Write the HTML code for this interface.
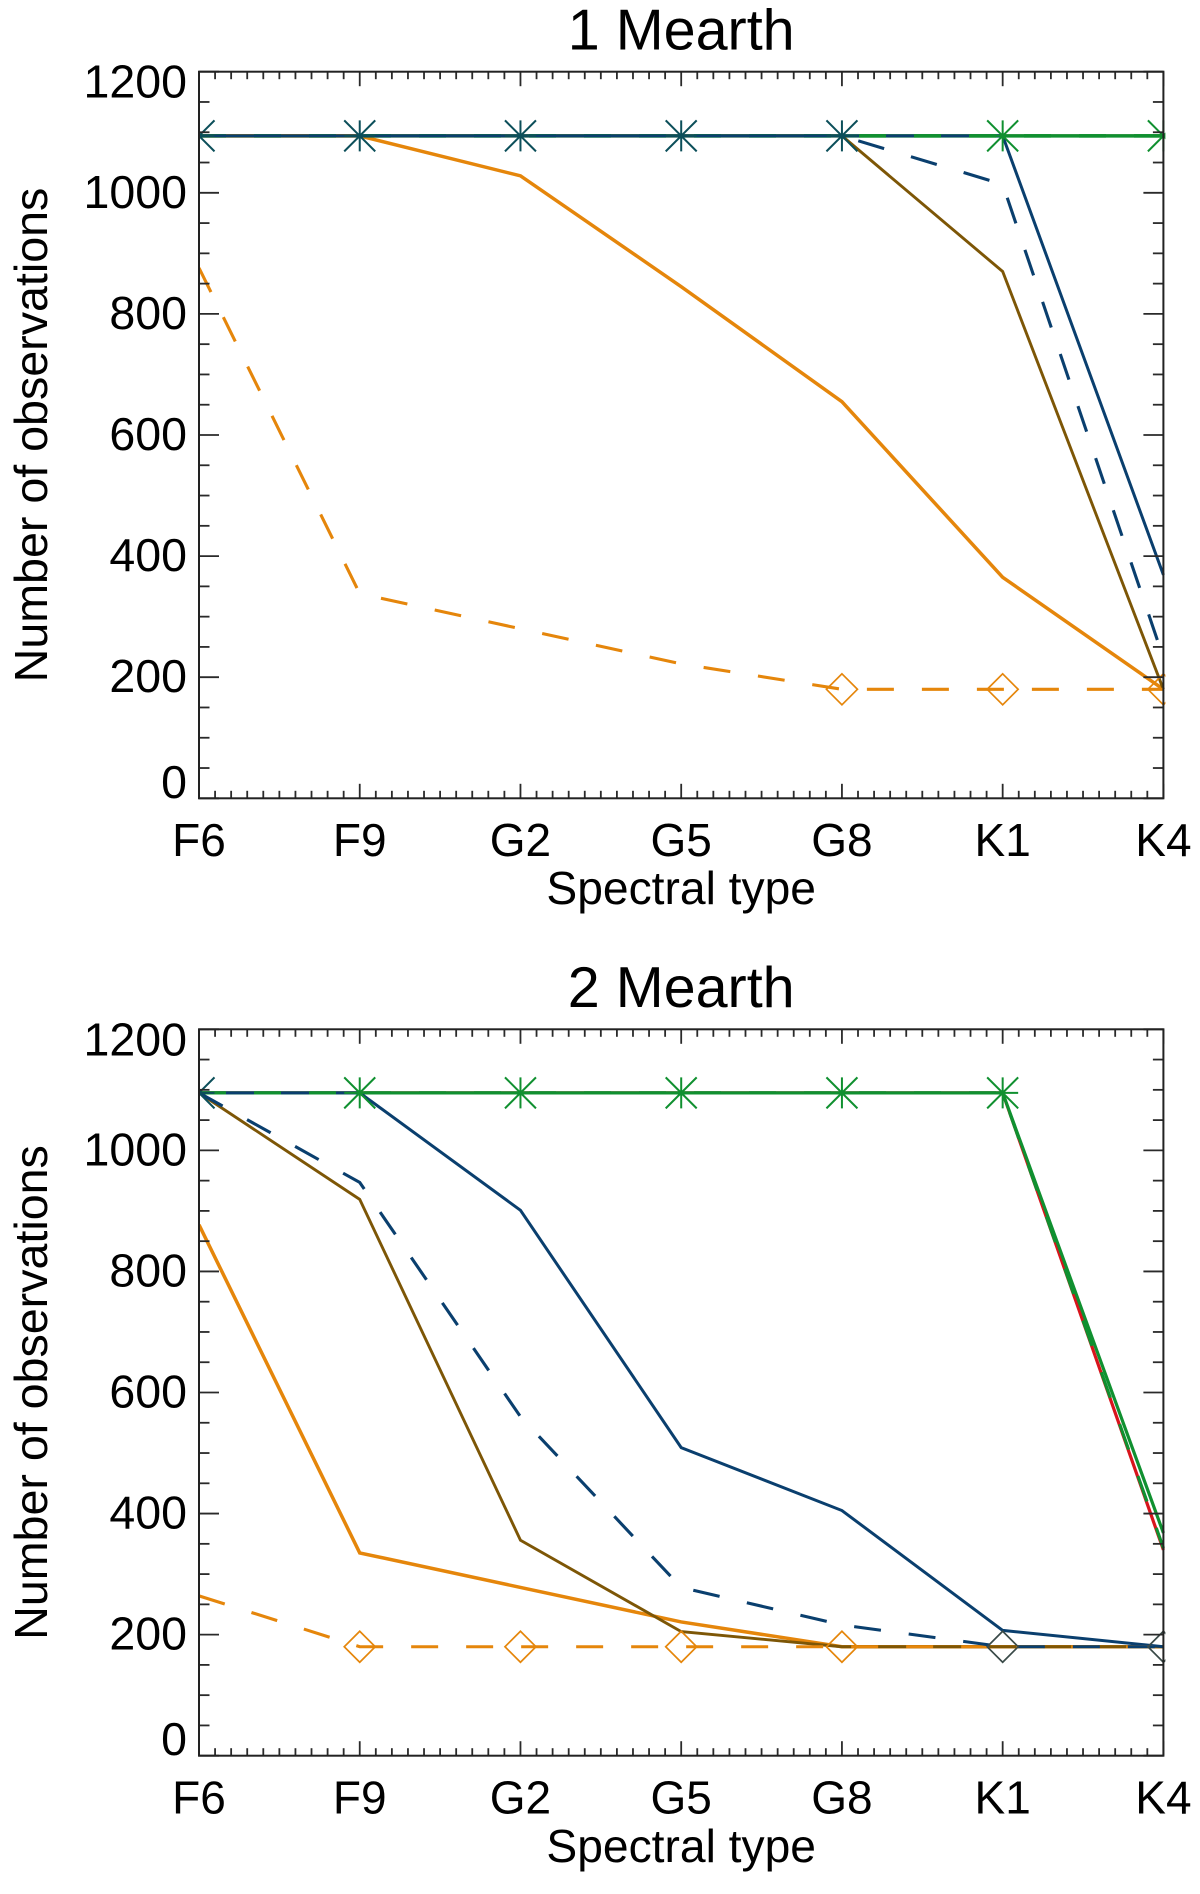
<!DOCTYPE html>
<html lang="en">
<head>
<meta charset="utf-8">
<title>Number of observations vs spectral type</title>
<style>
  html, body { margin: 0; padding: 0; background: #fff; }
  #chart { display: block; width: 1200px; height: 1894px; }
  text { font-family: "Liberation Sans", sans-serif; fill: #000; }
</style>
</head>
<body>
<svg id="chart" xmlns="http://www.w3.org/2000/svg" width="1200" height="1894" viewBox="0 0 1200 1894"></svg>
<script>
// ---- shared axis data ----
const categories = ['F6', 'F9', 'G2', 'G5', 'G8', 'K1', 'K4'];
const yTickValues = [0, 200, 400, 600, 800, 1000, 1200];
const yTickLabels = ['0', '200', '400', '600', '800', '1000', '1200'];
const yMinorStep = 50;
const xMinorPerMajor = 10;
const panelTitles = ['1 Mearth', '2 Mearth'];
const xAxisTitle = 'Spectral type';
const yAxisTitle = 'Number of observations';

// ---- panel 1 series (1 Mearth) ----
const p1GreenSolid = [1094, 1094, 1094, 1094, 1094, 1094, 1094];
const p1NavySolid = [1094, 1094, 1094, 1094, 1094, 1094, 369];
const p1OrangeSolid = [1094, 1094, 1028, 845, 655, 365, 180];
const p1BrownSolid = [1094, 1094, 1094, 1094, 1094, 870, 180];
const p1GreenDashed = [1094, 1094, 1094, 1094, 1094, 1094, 1094];
const p1OrangeDashed = [876, 338, 280, 222, 180, 180, 180];
const p1NavyDashed = [1094, 1094, 1094, 1094, 1094, 1014, 232];
const p1RedSolid = [1094, 1094, 1094, 1094, 1094, 1094, 1094];
const p1AsteriskDark = [1094, 1094, 1094, 1094, 1094, null, null];
const p1AsteriskGreen = [null, null, null, null, null, 1094, 1094];
const p1DiamondOrange = [null, null, null, null, 180, 180, 180];
const p1DiamondDark = [null, null, null, null, null, null, null];

// ---- panel 2 series (2 Mearth) ----
const p2GreenSolid = [1095, 1095, 1095, 1095, 1095, 1095, 368];
const p2NavySolid = [1095, 1095, 901, 509, 405, 207, 180];
const p2OrangeSolid = [877, 335, 278, 221, 180, 180, 180];
const p2BrownSolid = [1095, 919, 356, 205, 180, 180, 180];
const p2GreenDashed = [1095, 1095, 1095, 1095, 1095, 1095, 343];
const p2OrangeDashed = [264, 180, 180, 180, 180, 180, 180];
const p2NavyDashed = [1095, 947, 560, 278, 216, 180, 180];
const p2RedSolid = [1095, 1095, 1095, 1095, 1095, 1095, 340];
const p2AsteriskDark = [1095, null, null, null, null, null, null];
const p2AsteriskGreen = [null, 1095, 1095, 1095, 1095, 1095, null];
const p2DiamondOrange = [null, 180, 180, 180, 180, null, null];
const p2DiamondDark = [null, null, null, null, null, 180, 180];

const svgNS = 'http://www.w3.org/2000/svg';
const svg = document.getElementById('chart');

const NAVY = '#0a3f6e', BROWN = '#7d5606', ORANGE = '#e5860b', GREEN = '#109030', RED = '#d8141c', TEAL = '#0c4f5a', DARK = '#3a4a48';

function make(tag, name, attrs, parent) {
  const el = document.createElementNS(svgNS, tag);
  
  
  for (const k in attrs) el.setAttribute(k, attrs[k]);
  parent.appendChild(el);
  return el;
}

function drawPanel(idx, frame, layers, asteriskSets, diamondSets) {
  const g = make('g', 'panel-' + (idx + 1), {}, svg);
  const { left, right, top, bottom } = frame;
  const yMax = yTickValues[yTickValues.length - 1];
  const xScale = i => left + (right - left) * i / (categories.length - 1);
  const yScale = v => bottom - (bottom - top) * v / yMax;
  const midX = (left + right) / 2;
  const midY = (top + bottom) / 2;

  // clip
  const clipId = 'plot-clip-' + idx;
  const defs = make('defs', 'clip-defs', {}, g);
  const clip = make('clipPath', 'plot-clip', { id: clipId }, defs);
  make('rect', 'plot-clip-rect', { x: left - 1, y: top - 1, width: right - left + 3, height: bottom - top + 2 }, clip);

  // titles
  const title = make('text', 'panel-title', { x: midX, y: frame.titleBase, 'text-anchor': 'middle', 'font-size': 57.5 }, g);
  title.textContent = panelTitles[idx];
  const xt = make('text', 'x-axis-title', { x: midX, y: frame.xTitleBase, 'text-anchor': 'middle', 'font-size': 46.2 }, g);
  xt.textContent = xAxisTitle;
  const yt = make('text', 'y-axis-title', { x: 0, y: 0, transform: 'translate(47,' + midY + ') rotate(-90)', 'text-anchor': 'middle', 'font-size': 46.6 }, g);
  yt.textContent = yAxisTitle;

  // series
  const plot = make('g', 'plot-area', { 'clip-path': 'url(#' + clipId + ')' }, g);
  layers.forEach(s => {
    const pts = s.values.map((v, i) => xScale(i).toFixed(2) + ',' + yScale(v).toFixed(2)).join(' ');
    const attrs = { points: pts, fill: 'none', stroke: s.color, 'stroke-width': s.width, 'stroke-linejoin': 'miter' };
    if (s.dashed) attrs['stroke-dasharray'] = '27 28';
    make('polyline', s.name, attrs, plot);
  });

  // markers
  const R = 15.5;
  asteriskSets.forEach(set => {
    set.values.forEach((v, i) => {
      if (v === null) return;
      const cx = xScale(i), cy = yScale(v);
      const d = 'M' + (cx - R) + ' ' + (cy - R) + 'L' + (cx + R) + ' ' + (cy + R) +
                'M' + (cx - R) + ' ' + (cy + R) + 'L' + (cx + R) + ' ' + (cy - R) +
                'M' + cx + ' ' + (cy - R) + 'L' + cx + ' ' + (cy + R) +
                'M' + (cx - R) + ' ' + cy + 'L' + (cx + R) + ' ' + cy;
      make('path', 'asterisk-marker-' + categories[i], { d: d, fill: 'none', stroke: set.color, 'stroke-width': 2 }, plot);
    });
  });
  diamondSets.forEach(set => {
    set.values.forEach((v, i) => {
      if (v === null) return;
      const cx = xScale(i), cy = yScale(v);
      const d = 'M' + cx + ' ' + (cy - R) + 'L' + (cx + R) + ' ' + cy + 'L' + cx + ' ' + (cy + R) + 'L' + (cx - R) + ' ' + cy + 'Z';
      make('path', 'diamond-marker-' + categories[i], { d: d, fill: 'none', stroke: set.color, 'stroke-width': 1.7 }, plot);
    });
  });

  // ticks
  const ticks = make('g', 'axis-ticks', { stroke: '#2a2a2a', 'stroke-width': 1.8, fill: 'none' }, g);
  const step = (right - left) / (categories.length - 1);
  for (let i = 0; i < categories.length; i++) {
    const x = xScale(i);
    make('line', 'x-major-tick-bottom', { x1: x, x2: x, y1: bottom, y2: bottom - 14.5 }, ticks);
    make('line', 'x-major-tick-top', { x1: x, x2: x, y1: top, y2: top + 14.5 }, ticks);
    if (i < categories.length - 1) {
      for (let m = 1; m < xMinorPerMajor; m++) {
        const mx = x + step * m / xMinorPerMajor;
        make('line', 'x-minor-tick-bottom', { x1: mx, x2: mx, y1: bottom, y2: bottom - 7.5 }, ticks);
        make('line', 'x-minor-tick-top', { x1: mx, x2: mx, y1: top, y2: top + 7.5 }, ticks);
      }
    }
  }
  for (let v = 0; v <= yMax; v += yMinorStep) {
    const y = yScale(v);
    const major = yTickValues.indexOf(v) >= 0;
    const len = major ? 20 : 10.5;
    make('line', major ? 'y-major-tick-left' : 'y-minor-tick-left', { x1: left, x2: left + len, y1: y, y2: y }, ticks);
    make('line', major ? 'y-major-tick-right' : 'y-minor-tick-right', { x1: right, x2: right - len, y1: y, y2: y }, ticks);
  }

  // frame
  make('rect', 'plot-frame', { x: left, y: top, width: right - left, height: bottom - top, fill: 'none', stroke: '#222', 'stroke-width': 2 }, g);

  // tick labels
  yTickValues.forEach((v, i) => {
    let base = yScale(v) + 15;
    if (v === yMax) base = yScale(v) + 26;
    if (v === 0) base = yScale(v) - 0.5;
    const t = make('text', 'y-tick-label', { x: 187, y: base, 'text-anchor': 'end', 'font-size': 46.5 }, g);
    t.textContent = yTickLabels[i];
  });
  categories.forEach((c, i) => {
    const t = make('text', 'x-tick-label', { x: xScale(i), y: frame.xLabelBase, 'text-anchor': 'middle', 'font-size': 46 }, g);
    t.textContent = c;
  });
}

drawPanel(0,
  { left: 199, right: 1163.4, top: 71.7, bottom: 798.3, titleBase: 49.3, xLabelBase: 856, xTitleBase: 904 },
  [
    { name: 'series-red-solid', values: p1RedSolid, color: RED, width: 3 },
    { name: 'series-green-solid', values: p1GreenSolid, color: GREEN, width: 3.6 },
    { name: 'series-orange-solid', values: p1OrangeSolid, color: ORANGE, width: 3.5 },
    { name: 'series-brown-solid', values: p1BrownSolid, color: BROWN, width: 2.9 },
    { name: 'series-navy-solid', values: p1NavySolid, color: NAVY, width: 3 },
    { name: 'series-green-dashed', values: p1GreenDashed, color: GREEN, width: 3.6, dashed: true },
    { name: 'series-orange-dashed', values: p1OrangeDashed, color: ORANGE, width: 3.1, dashed: true },
    { name: 'series-navy-dashed', values: p1NavyDashed, color: NAVY, width: 3.1, dashed: true }
  ],
  [ { values: p1AsteriskDark, color: TEAL }, { values: p1AsteriskGreen, color: GREEN } ],
  [ { values: p1DiamondOrange, color: ORANGE }, { values: p1DiamondDark, color: DARK } ]
);

drawPanel(1,
  { left: 199, right: 1163.4, top: 1029.3, bottom: 1755.7, titleBase: 1007, xLabelBase: 1813.5, xTitleBase: 1862 },
  [
    { name: 'series-red-solid', values: p2RedSolid, color: RED, width: 3.2 },
    { name: 'series-green-solid', values: p2GreenSolid, color: GREEN, width: 3.2 },
    { name: 'series-orange-solid', values: p2OrangeSolid, color: ORANGE, width: 3.5 },
    { name: 'series-brown-solid', values: p2BrownSolid, color: BROWN, width: 2.9 },
    { name: 'series-navy-solid', values: p2NavySolid, color: NAVY, width: 3 },
    { name: 'series-green-dashed', values: p2GreenDashed, color: GREEN, width: 3.2, dashed: true },
    { name: 'series-orange-dashed', values: p2OrangeDashed, color: ORANGE, width: 3.1, dashed: true },
    { name: 'series-navy-dashed', values: p2NavyDashed, color: NAVY, width: 3.1, dashed: true }
  ],
  [ { values: p2AsteriskDark, color: TEAL }, { values: p2AsteriskGreen, color: GREEN } ],
  [ { values: p2DiamondOrange, color: ORANGE }, { values: p2DiamondDark, color: DARK } ]
);
</script>
</body>
</html>
